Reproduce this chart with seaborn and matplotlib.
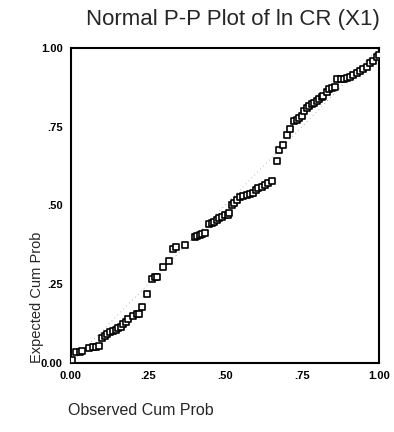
import pandas as pd
import seaborn as sns
import matplotlib.pyplot as plt

# ---------- dados ----------
observed = [0.004, 0.015, 0.029, 0.037, 0.060, 0.073, 0.081, 0.091, 0.102, 0.110,
            0.118, 0.127, 0.138, 0.145, 0.154, 0.161, 0.170, 0.179, 0.186, 0.200,
            0.213, 0.222, 0.231, 0.246, 0.262, 0.273, 0.281, 0.300, 0.318, 0.330,
            0.341, 0.371, 0.403, 0.410, 0.419, 0.427, 0.436, 0.447, 0.457, 0.464,
            0.473, 0.482, 0.491, 0.501, 0.511, 0.514,
            0.522, 0.529, 0.538, 0.549, 0.559, 0.570, 0.581, 0.590, 0.600, 0.608,
            0.619, 0.630, 0.641, 0.654, 0.668,
            0.676, 0.687, 0.700, 0.711, 0.724, 0.733, 0.741, 0.749, 0.756, 0.765,
            0.774, 0.782, 0.790, 0.798, 0.806, 0.814, 0.819, 0.830, 0.839, 0.846,
            0.857, 0.865, 0.876, 0.886, 0.895, 0.906, 0.917, 0.928, 0.938, 0.949,
            0.960, 0.971, 0.981, 0.993, 1.000]
expected = [0.010, 0.034, 0.036, 0.037, 0.047, 0.050, 0.052, 0.054, 0.080, 0.086,
            0.093, 0.098, 0.102, 0.105, 0.110, 0.115, 0.123, 0.130, 0.139, 0.150,
            0.155, 0.156, 0.177, 0.219, 0.266, 0.272, 0.274, 0.303, 0.325, 0.363,
            0.369, 0.375, 0.400, 0.404, 0.407, 0.408, 0.412, 0.441, 0.443, 0.448,
            0.454, 0.459, 0.464, 0.469, 0.470, 0.475,
            0.502, 0.509, 0.517, 0.526, 0.531, 0.533, 0.536, 0.541, 0.549, 0.555,
            0.560, 0.565, 0.572, 0.579, 0.641,
            0.676, 0.692, 0.724, 0.742, 0.769, 0.771, 0.776, 0.784, 0.801, 0.809,
            0.816, 0.822, 0.826, 0.833, 0.838, 0.843, 0.848, 0.861, 0.870, 0.874,
            0.877, 0.902, 0.902, 0.902, 0.904, 0.909, 0.914, 0.920, 0.926, 0.932,
            0.941, 0.951, 0.960, 0.970, 0.978]
ref_line = [0.0, 1.0]
ticks = [0.0, 0.25, 0.5, 0.75, 1.0]
tick_labels = ['0.00', '.25', '.50', '.75', '1.00']

df = pd.DataFrame({'observed': observed, 'expected': expected})

# ---------- figura ----------
sns.set_style('white')
plt.rcParams['font.family'] = ['Liberation Sans', 'DejaVu Sans']

fig = plt.figure(figsize=(3.94, 4.32), dpi=100)
ax = fig.add_axes([0.180, 0.160, 0.782, 0.729])

# linha de referência pontilhada (diagonal)
ax.plot(ref_line, ref_line, color='#999999', linestyle=(0, (1, 4)), linewidth=0.6, zorder=1)

sns.scatterplot(data=df, x='observed', y='expected', marker='s', s=18,
                facecolor='white', edgecolor='black', linewidth=1.2, ax=ax, zorder=3)

ax.set_xlim(0, 1)
ax.set_ylim(0, 1)
ax.set_xticks(ticks)
ax.set_xticklabels(tick_labels)
ax.set_yticks(ticks)
ax.set_yticklabels(tick_labels)
ax.tick_params(axis='both', direction='out', length=4, width=1, colors='black',
               labelsize=8, pad=2)
for lab in ax.get_xticklabels() + ax.get_yticklabels():
    lab.set_fontweight('bold')

for sp in ax.spines.values():
    sp.set_color('black')
    sp.set_linewidth(1.5)

ax.set_xlabel('')
ax.set_ylabel('')
fig.text(0.592, 0.955, 'Normal P-P Plot of ln CR (X1)', ha='center', va='center', fontsize=16)
fig.text(0.172, 0.050, 'Observed Cum Prob', ha='left', va='center', fontsize=11.5)
fig.text(0.094, 0.160, 'Expected Cum Prob', ha='center', va='bottom', rotation=90, fontsize=10.5)

fig.savefig('out.png', dpi=100)
